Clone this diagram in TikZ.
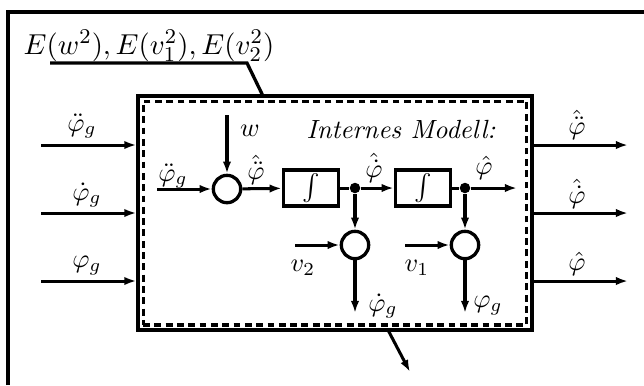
\documentclass[tikz,border=0pt]{standalone}
\usepackage{tikz}
\usetikzlibrary{arrows.meta, positioning, calc}

\tikzset{
  sig/.style={line width=1.15pt, -{Latex[length=4.6pt, width=3.2pt]}},
  sumnode/.style={circle, draw, line width=1.25pt, minimum size=10.4pt, inner sep=0pt},
  intbox/.style={draw, line width=1.25pt, minimum width=21pt, minimum height=13.6pt, inner sep=0pt},
  knoten/.style={circle, fill, minimum size=4pt, inner sep=0pt},
  lbl/.style={inner sep=0pt}
}

\begin{document}
\begin{tikzpicture}[x=0.38pt, y=-0.38pt]
\useasboundingbox (0,0) rectangle (644,385);
\draw[line width=1.25pt] (8,385) -- (8,12) -- (644,12);
\node[draw, line width=1.25pt, minimum width=149.7pt, minimum height=88.9pt, inner sep=0pt] (modell) at (335,213) {};
\node[draw, line width=1.15pt, dash pattern=on 2.6pt off 1.7pt, minimum width=145.9pt, minimum height=85.1pt, inner sep=0pt] (modellin) at (335,213) {};
\node[lbl, font=\fontsize{11.3}{13}\selectfont] (erw) at (149,46) {$E(w^2), E(v_1^2), E(v_2^2)$};
\coordinate (ul) at (50,63);
\coordinate (knick) at (247,63);
\coordinate (ein) at (263,96);
\draw[line width=1.25pt] (ul) -- (knick) -- (ein);
\coordinate (in1) at (41,145);
\coordinate (in2) at (41,213);
\coordinate (in3) at (41,281);
\draw[sig] (in1) -- (in1 -| modell.west);
\draw[sig] (in2) -- (in2 -| modell.west);
\draw[sig] (in3) -- (in3 -| modell.west);
\node[lbl] (lin1) at (82,126) {$\ddot{\varphi}_g$};
\node[lbl] (lin2) at (87,195) {$\dot{\varphi}_g$};
\node[lbl] (lin3) at (87,266) {$\varphi_g$};
\coordinate (out1) at (628,145);
\coordinate (out2) at (628,213);
\coordinate (out3) at (628,281);
\draw[sig] (out1 -| modell.east) -- (out1);
\draw[sig] (out2 -| modell.east) -- (out2);
\draw[sig] (out3 -| modell.east) -- (out3);
\node[lbl] (lout1) at (577,125) {$\hat{\ddot{\varphi}}$};
\node[lbl] (lout2) at (577,194) {$\hat{\dot{\varphi}}$};
\node[lbl] (lout3) at (577,264) {$\hat{\varphi}$};
\node[lbl, font=\itshape] (titel) at (401,129) {Internes Modell:};
\node[sumnode] (sum1) at (227,189) {};
\node[intbox] (int1) at (311,188) {$\int$};
\node[knoten] (dot1) at (355,188) {};
\node[intbox] (int2) at (423,188) {$\int$};
\node[knoten] (dot2) at (465,188) {};
\coordinate (aus) at (517,188);
\node[sumnode] (sum2) at (355,245) {};
\node[sumnode] (sum3) at (465,245) {};
\coordinate (wein) at (227,115);
\coordinate (gin) at (157,189);
\coordinate (v2in) at (295,245);
\coordinate (v1in) at (405,245);
\coordinate (d2aus) at (355,313);
\coordinate (d1aus) at (465,313);
\draw[sig] (wein) -- (sum1);
\draw[sig] (gin) -- (sum1);
\draw[sig] (sum1) -- (int1);
\draw[line width=1.15pt] (int1) -- (dot1);
\draw[sig] (dot1) -- (int2);
\draw[line width=1.15pt] (int2) -- (dot2);
\draw[sig] (dot2) -- (aus);
\draw[sig] (dot1) -- (sum2);
\draw[sig] (dot2) -- (sum3);
\draw[sig] (v2in) -- (sum2);
\draw[sig] (v1in) -- (sum3);
\draw[sig] (sum2) -- (d2aus);
\draw[sig] (sum3) -- (d1aus);
\node[lbl] (lw) at (250,131) {$w$};
\node[lbl] (lgin) at (173,176) {$\ddot{\varphi}_g$};
\node[lbl] (lh2) at (256,170) {$\hat{\ddot{\varphi}}$};
\node[lbl] (lh1) at (374,168) {$\hat{\dot{\varphi}}$};
\node[lbl] (lh0) at (484,168) {$\hat{\varphi}$};
\node[lbl] (lv2) at (303,268) {$v_2$};
\node[lbl] (lv1) at (417,268) {$v_1$};
\node[lbl] (ld2) at (383,306) {$\dot{\varphi}_g$};
\node[lbl] (ld1) at (488,306) {$\varphi_g$};
\coordinate (unten) at (388,330);
\coordinate (untenend) at (410,372);
\draw[sig] (unten) -- (untenend);
\end{tikzpicture}
\end{document}
